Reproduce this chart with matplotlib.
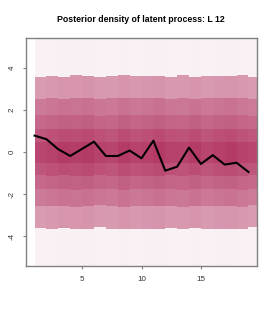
import numpy as np
import matplotlib
matplotlib.use("Agg")
import matplotlib.pyplot as plt
from matplotlib.patches import Rectangle

# latent process estimate (black line)
t = list(range(1, 20))
latent = [0.79, 0.62, 0.14, -0.18, 0.16, 0.50, -0.18, -0.18, 0.08, -0.29,
          0.55, -0.88, -0.69, 0.22, -0.56, -0.14, -0.59, -0.50, -0.94]

# posterior band edges (upper half, mirrored below) and their shading
edges = [0.5, 1.1, 1.75, 2.55, 3.6, 7.0]
shade = [0.92, 0.84, 0.75, 0.66, 0.50, 0.07]
# small per-column differences in spread and intensity
spread = [1.00, 1.01, 1.00, 1.02, 1.01, 0.99, 1.01, 1.02, 1.01, 1.01,
          1.01, 1.00, 1.02, 1.00, 1.01, 1.01, 1.01, 1.02, 0.99]
inten = [0.97, 1.00, 1.03, 1.02, 1.04, 1.00, 0.98, 1.03, 0.99, 1.01,
         1.04, 1.00, 0.99, 1.03, 0.98, 1.01, 1.03, 0.99, 0.97]

maroon = np.array([176, 48, 96]) / 255.0

fig = plt.figure(figsize=(2.75, 3.14), dpi=100)
ax = fig.add_axes([26/275, 48/314, 231/275, 228/314])

for i, x in enumerate(t):
    lower = 0.0
    for e, a in zip(edges, shade):
        a = min(a * inten[i], 1.0)
        col = 1 - a * (1 - maroon)
        hi = e * spread[i] if e < 7 else e
        lo = lower
        for y0, h in [(lo, hi - lo), (-hi, hi - lo)]:
            ax.add_patch(Rectangle((x, y0), 1, h, facecolor=col,
                                   edgecolor="none", zorder=1))
        lower = hi

ax.plot(t, latent, color="black", lw=1.5, zorder=3)

ax.set_xlim(0.28, 19.72)
ax.set_ylim(-5.42, 5.44)
ax.set_xticks([5, 10, 15])
ax.set_yticks([-4, -2, 0, 2, 4])
ax.set_yticklabels(["-4", "-2", "0", "2", "4"], rotation=90, va="center")
for s in ax.spines.values():
    s.set_color("#808080")
    s.set_linewidth(1.0)
ax.tick_params(length=2.5, width=0.8, color="#808080", labelsize=5.8,
               labelcolor="#333333")
ax.tick_params(axis="y", pad=5.0)
ax.tick_params(axis="x", pad=4.5)
for lab in ax.get_xticklabels() + ax.get_yticklabels():
    lab.set_family("Liberation Sans")

fig.text(141/275, 1 - 20/314, "Posterior density of latent process: L 12",
         ha="center", va="center", fontsize=6.3, fontweight="bold",
         family="Liberation Sans")

fig.savefig("out.png", dpi=100)
